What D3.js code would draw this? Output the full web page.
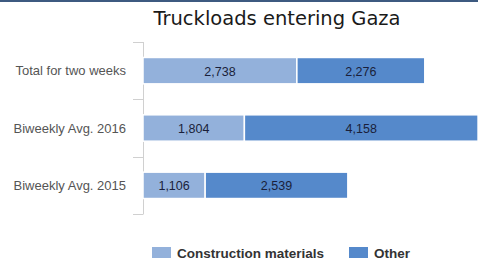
<!DOCTYPE html>
<html>
<head>
<meta charset="utf-8">
<title>Truckloads entering Gaza</title>
<style>
  body { margin: 0; background: #fff; }
  svg { display: block; font-family: Arial, "Liberation Sans", sans-serif; }
</style>
</head>
<body>
<svg id="chart" width="478" height="263"></svg>
<script src="https://cdn.jsdelivr.net/npm/d3@7/dist/d3.min.js"></script>
<script>
// data
var categories = ['Total for two weeks', 'Biweekly Avg. 2016', 'Biweekly Avg. 2015'];
var construction = [2738, 1804, 1106];
var other = [2276, 4158, 2539];
var seriesNames = ['Construction materials', 'Other'];
var colors = ['#93b1db', '#5589cb'];

var svg = d3.select('#chart');

// top border
svg.append('rect')
    .attr('x', 0).attr('y', 0)
    .attr('width', 478).attr('height', 2)
    .attr('fill', '#3d5a80');

// title
svg.append('text')
    .attr('x', 277)
    .attr('y', 25)
    .attr('text-anchor', 'middle')
    .attr('font-size', 19.5)
    .attr('fill', '#1a1a1a')
    .style('font-family', 'Verdana, "DejaVu Sans", sans-serif')
    .text('Truckloads entering Gaza');

// scales
var x = d3.scaleLinear().domain([0, 6000]).range([143, 480.2]);
var y = d3.scaleBand().domain(categories).range([42, 214]).paddingInner(0.54).paddingOuter(0.27);

var rows = categories.map(function (c, i) {
    return {cat: c, vals: [construction[i], other[i]]};
});
var stack = d3.stack().keys([0, 1]).value(function (d, k) { return d.vals[k]; });
var layers = stack(rows);

// axis with ticks between categories
var axisG = svg.append('g').attr('stroke', '#d0d0d0');
axisG.append('line')
    .attr('x1', 143.5).attr('x2', 143.5)
    .attr('y1', 42).attr('y2', 214);
var bounds = [42].concat(categories.map(function (c) {
    return y(c) + y.bandwidth() + y.step() * y.paddingInner() / 2;
}));
bounds[bounds.length - 1] = 214;
axisG.selectAll('.tk')
    .data(bounds)
    .enter().append('line')
    .attr('x1', 133).attr('x2', 143.5)
    .attr('y1', function (d) { return Math.round(d) + 0.5; })
    .attr('y2', function (d) { return Math.round(d) + 0.5; });

// category labels
svg.selectAll('.cat')
    .data(categories)
    .enter().append('text')
    .attr('x', 126)
    .attr('y', function (d) { return y(d) + y.bandwidth() / 2 + 4.5; })
    .attr('text-anchor', 'end')
    .attr('font-size', 13)
    .attr('fill', '#555')
    .text(function (d) { return d; });

// bars
layers.forEach(function (layer, k) {
    var g = svg.append('g');
    g.selectAll('rect')
        .data(layer)
        .enter().append('rect')
        .attr('x', function (d) { return x(d[0]); })
        .attr('y', function (d) { return y(d.data.cat); })
        .attr('width', function (d) { return x(d[1]) - x(d[0]); })
        .attr('height', y.bandwidth())
        .attr('fill', colors[k])
        .attr('stroke', '#fff')
        .attr('stroke-width', 1.5);
    g.selectAll('text')
        .data(layer)
        .enter().append('text')
        .attr('x', function (d) { return (x(d[0]) + Math.min(x(d[1]), 478)) / 2; })
        .attr('y', function (d) { return y(d.data.cat) + y.bandwidth() / 2 + 5; })
        .attr('text-anchor', 'middle')
        .attr('font-size', 12.5)
        .attr('fill', '#1a1f3a')
        .text(function (d) { return d3.format(',')(d[1] - d[0]); });
});

// legend
var legendX = [152, 349];
var legend = svg.selectAll('.legend')
    .data(seriesNames)
    .enter().append('g')
    .attr('transform', function (d, i) { return 'translate(' + legendX[i] + ',247)'; });
legend.append('rect')
    .attr('width', 19).attr('height', 11)
    .attr('fill', function (d, i) { return colors[i]; });
legend.append('text')
    .attr('x', 25).attr('y', 11)
    .attr('font-size', 13.5)
    .attr('font-weight', 'bold')
    .attr('fill', '#333')
    .text(function (d) { return d; });
</script>
</body>
</html>
